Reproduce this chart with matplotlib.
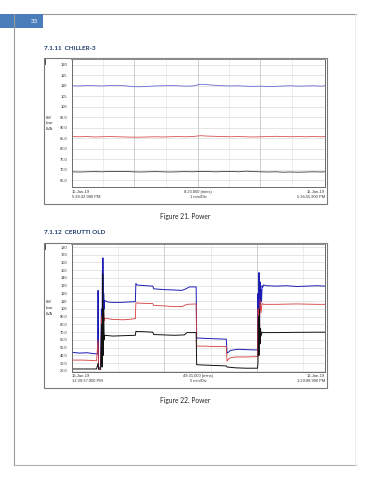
import matplotlib
matplotlib.use("Agg")
import matplotlib.pyplot as plt
import matplotlib.patches as mpatches

# ---- chart 1 : CHILLER-3, time in minutes from 5:28:32 PM ----
t1 = [0, 0.25, 0.5, 0.75, 1.0, 1.25, 1.5, 1.75, 2.0, 2.25, 2.5, 2.75,
      3.0, 3.25, 3.5, 3.75, 4.0, 4.25, 4.5, 4.75, 5.0, 5.25, 5.5, 5.75,
      6.0, 6.25, 6.5, 6.75, 7.0, 7.25, 7.5, 7.75, 8.0, 8.25, 8.38]
kva1 = [110.0, 109.9, 110.1, 110.0, 109.9, 110.1, 110.2, 110.0, 109.6, 109.5,
        109.7, 109.9, 110.0, 110.1, 110.0, 109.8, 109.9, 110.7, 110.5, 110.2,
        110.0, 109.9, 110.0, 109.8, 109.7, 109.8, 109.6, 109.7, 109.9, 110.0,
        109.8, 109.9, 110.0, 109.8, 110.0]
kw1 = [85.8, 85.7, 85.8, 85.6, 85.7, 85.8, 85.7, 85.6, 85.5, 85.5, 85.6, 85.7,
       85.6, 85.7, 85.8, 85.7, 85.8, 86.2, 86.0, 85.9, 85.8, 85.7, 85.8, 85.7,
       85.6, 85.7, 85.8, 85.9, 85.8, 85.7, 85.8, 85.7, 85.8, 85.7, 85.8]
kvar1 = [69.0, 68.9, 69.0, 69.1, 69.0, 69.2, 69.1, 69.2, 69.0, 68.9, 69.0, 69.1,
         69.0, 68.9, 69.0, 69.1, 69.0, 69.2, 69.1, 69.0, 69.1, 69.2, 69.0, 69.3,
         69.1, 69.0, 68.9, 69.0, 68.8, 68.9, 68.8, 68.9, 69.0, 68.9, 69.0]
ticks1 = [65, 70, 75, 80, 85, 90, 95, 100, 105, 110, 115, 120]
ticklabels1 = ["65.0", "70.0", "75.0", "80.0", "85.0", "90.0", "95.0",
               "100", "105", "110", "115", "120"]

# ---- chart 2 : CERUTTI OLD, time in minutes from 12:39:37 PM ----
t2_kva = [0, 1.5, 3.0, 4.0, 4.8, 5.0, 5.1, 5.2, 5.6, 5.75, 5.85, 5.95, 6.0,
          6.05, 6.15, 6.2, 6.3, 6.4, 7.0, 8.0, 9.5, 11.0, 12.4, 12.5, 12.7,
          13.5, 14.5, 15.8, 16.0, 18.0, 20.0, 21.5, 22.3, 23.0, 24.3, 24.4,
          24.6, 26.0, 28.0, 30.2, 30.35, 30.6, 31.0, 32.5, 34.0, 36.3, 36.4,
          36.5, 36.6, 36.7, 36.8, 36.9, 37.0, 37.1, 37.2, 37.3, 37.5, 38.0,
          40.0, 42.0, 44.0, 46.0, 48.0, 49.5]
kva2 = [44, 43, 43.5, 42.5, 42, 42, 124, 24, 24, 100, 30, 150, 40,
        166, 80, 120, 100, 111, 109, 108.5, 108.5, 109, 109.5, 133, 131,
        130.5, 130, 129.5, 126, 125, 124.5, 124, 126, 128.5, 128.5, 62,
        62.5, 62, 61.5, 61, 43, 44, 46.5, 48, 47.5, 47, 120,
        60, 147, 80, 135, 100, 125, 110, 130, 128, 131, 130,
        129.5, 130, 129, 129.5, 130, 129.5]
t2_kw = [0, 2, 4, 4.8, 5.1, 5.2, 5.6, 5.8, 5.9, 6.0, 6.1, 6.2, 6.3, 6.4, 8,
         10, 11, 12.4, 12.5, 13, 15.8, 16, 18, 20, 21.5, 22.5, 24.3, 24.4, 26,
         28, 30.2, 30.35, 30.6, 31, 32, 34, 36.3, 36.4, 36.5, 36.6, 36.7, 36.8,
         37, 37.2, 37.5, 40, 44, 48, 49.5]
kw2 = [34, 34, 33.5, 33, 60, 23, 23, 90, 40, 99, 70, 95, 85, 88, 86.5,
       86, 86.5, 87.5, 108, 107.5, 107, 104.5, 104, 103, 103, 106, 106.5, 52, 52,
       51.5, 51.5, 32.5, 35, 37, 38, 38, 38.5, 100, 60, 100, 80, 112,
       95, 107, 106, 106, 106.5, 106, 106]
t2_kvar = [0, 4.8, 5.1, 5.2, 5.6, 5.8, 5.9, 6.0, 6.1, 6.2, 6.3, 6.4, 8, 10,
           12.4, 12.5, 14.5, 15.8, 16, 18, 20, 22, 22.5, 24.3, 24.4, 26, 28,
           30.2, 30.35, 32, 34, 36.3, 36.4, 36.5, 36.6, 36.7, 36.8, 36.9, 37,
           37.2, 37.5, 40, 44, 48, 49.5]
kvar2 = [22.5, 22.5, 30, 22, 22, 80, 25, 145, 40, 100, 60, 66, 65, 65.5,
         66, 71, 70.5, 70, 67, 66.5, 66, 66.5, 69.5, 69.5, 28, 27.5, 27,
         26.5, 25, 24, 23.5, 23.5, 30, 90, 40, 100, 55, 75, 65,
         70, 69.5, 69.5, 69.8, 70, 70]
ticks2 = [20, 30, 40, 50, 60, 70, 80, 90, 100, 110, 120, 130, 140, 150,
          160, 170, 180]
ticklabels2 = ["20.0", "30.0", "40.0", "50.0", "60.0", "70.0", "80.0", "90.0",
               "100", "110", "120", "130", "140", "150", "160", "170", "180"]

W, H = 370, 480
fig = plt.figure(figsize=(W / 100, H / 100), dpi=100)

# page background in pixel coordinates
bg = fig.add_axes([0, 0, 1, 1])
bg.set_xlim(0, W)
bg.set_ylim(H, 0)
bg.axis("off")
bg.add_patch(mpatches.Rectangle((0, 14), 43, 14, fc="#4a7ebb", ec="none"))
bg.text(38, 21.5, "33", color="white", fontsize=4.5, ha="right", va="center",
        family="Lato")
bg.plot([43, 356], [14, 14], color="#9a9a9a", lw=0.8)
bg.plot([14.3, 14.3], [14, 465], color="#9a9a9a", lw=0.8)
bg.plot([14.3, 356], [465, 465], color="#b0b0b0", lw=0.8)
bg.plot([355, 355], [14, 465], color="#ececec", lw=0.6)

head = dict(color="#1f3b6e", fontsize=4.6, fontweight="bold", family="Lato",
            ha="left", va="center")
bg.text(43.5, 48.5, "7.1.11  CHILLER-3", **head)
bg.text(43.5, 232, "7.1.12  CERUTTI OLD", **head)
cap = dict(color="#222222", fontsize=4.8, family="Lato", ha="center",
           va="center")
bg.text(185, 216.5, "Figure 21. Power", **cap)
bg.text(185, 400.5, "Figure 22. Power", **cap)

small = dict(fontsize=2.9, family="Liberation Sans", color="#333333")


def chart(top, bottom, frame_bottom, ylim, ticks, ticklabels, series,
          vgrid_dark, vgrid_light, xmax, lab_y, labels, unit_y):
    # outer frame
    bg.add_patch(mpatches.Rectangle((44, top - 1), 283, frame_bottom - top + 1,
                                    fc="white", ec="#7a7a7a", lw=0.8))
    bg.plot([44.5, 44.5], [top, top + 5], color="#333333", lw=0.6)
    ax = fig.add_axes([72 / W, 1 - bottom / H, 253 / W, (bottom - top) / H])
    ax.set_xlim(0, xmax)
    ax.set_ylim(*ylim)
    ax.set_yticks(ticks)
    ax.set_yticklabels(ticklabels, **small)
    ax.set_xticks([])
    ax.tick_params(axis="y", length=0, pad=3.2)
    for v in ticks:
        ax.axhline(v, color="#dadada", lw=0.5, zorder=0)
    for v in vgrid_dark:
        ax.axvline(v, color="#c8c8c8", lw=0.6, zorder=0)
    for v in vgrid_light:
        ax.axvline(v, color="#e6e6e6", lw=0.5, zorder=0)
    for tx, vals, col, lw in series:
        ax.plot(tx, vals, color=col, lw=lw)
    for s in ax.spines.values():
        s.set_color("#6a6a6a")
        s.set_linewidth(0.7)
    ax.spines["top"].set_linewidth(1.4)
    ax.spines["top"].set_color("#8a8a8a")
    # unit label
    for i, u in enumerate(["kW", "kvar", "kVA"]):
        bg.text(46, unit_y + i * 5.7, u, ha="left", va="center", **small)
    # time labels under the plot
    (l1, l2), (c1, c2), (r1, r2) = labels
    bg.text(72, lab_y, l1, ha="left", va="center", **small)
    bg.text(72, lab_y + 5, l2, ha="left", va="center", **small)
    bg.text(198, lab_y, c1, ha="center", va="center", **small)
    bg.text(198, lab_y + 5, c2, ha="center", va="center", **small)
    bg.text(325, lab_y, r1, ha="right", va="center", **small)
    bg.text(325, lab_y + 5, r2, ha="right", va="center", **small)
    return ax


chart(59.3, 186.7, 204, (61.9, 122.6), ticks1, ticklabels1,
      [(t1, kva1, "#6b6bd0", 0.6), (t1, kw1, "#d65050", 0.6),
       (t1, kvar1, "#3a3a3a", 0.6)],
      [2.05, 4.17, 6.22], [1.03, 3.1, 5.2, 7.28], 8.38, 192.3,
      [("15-Jan-19", "5:28:32.980 PM"), ("8:23.000 (mins)", "1 min/Div"),
       ("15-Jan-19", "5:36:55.900 PM")], 117.7)

chart(244.3, 372, 388, (18.6, 183.5), ticks2, ticklabels2,
      [(t2_kva, kva2, "#1c1cb4", 0.7), (t2_kw, kw2, "#d43a3a", 0.6),
       (t2_kvar, kvar2, "#111111", 0.7)],
      [18.1, 36.2], [9.0, 27.2, 45.3], 49.52, 376.3,
      [("16-Jan-19", "12:39:37.900 PM"), ("49:31.000 (mins)", "5 min/Div"),
       ("16-Jan-19", "1:29:08.900 PM")], 302.3)

fig.savefig("out.png", dpi=100)
